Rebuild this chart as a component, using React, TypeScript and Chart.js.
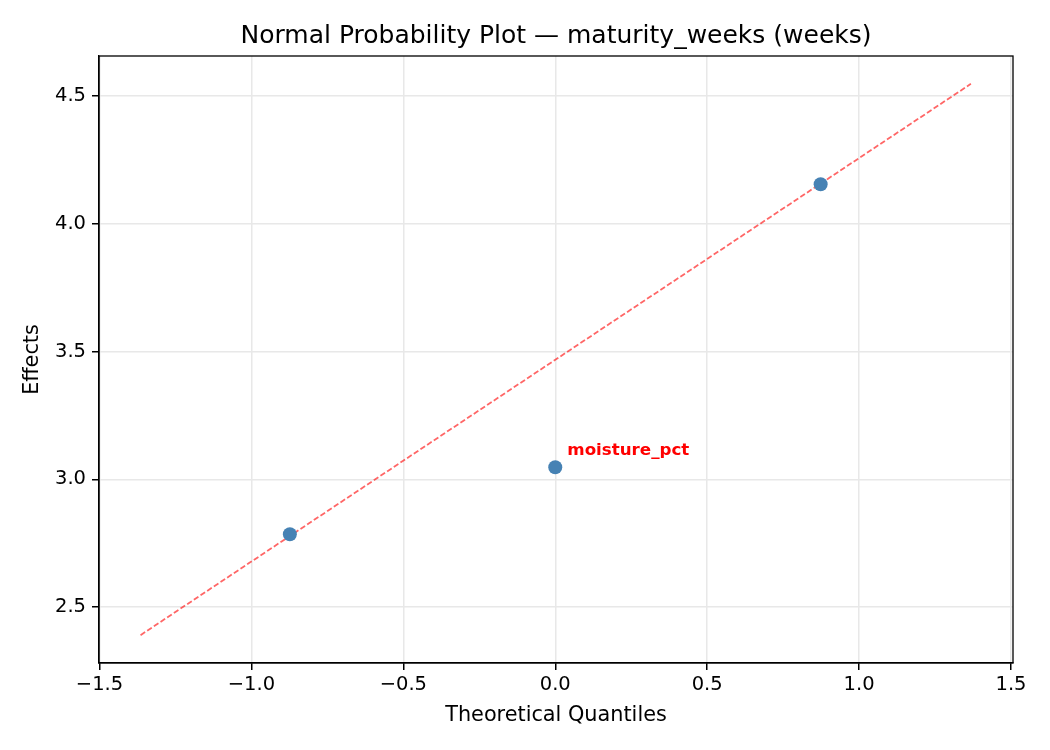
import React, { useEffect, useRef } from 'react';
import { Chart, registerables } from 'chart.js';

Chart.register(...registerables);

// theoretical quantiles vs. effects
const quantiles = [-0.8735, 0, 0.8735];
const effects = [2.785, 3.047, 4.155];
const pointLabels = ['', 'moisture_pct', ''];

// reference line end points
const refLineX = [-1.365, 1.368];
const refLineY = [2.39, 4.548];

const xTicks = [-1.5, -1.0, -0.5, 0.0, 0.5, 1.0, 1.5];
const yTicks = [2.5, 3.0, 3.5, 4.0, 4.5];

const chartTitle = 'Normal Probability Plot \u2014 maturity_weeks (weeks)';

const FONT = "'DejaVu Sans', sans-serif";

const fmt = (v: number) => v.toFixed(1).replace('-', '\u2212');

// draws the title centred over the plot, the full box and the red point labels
const boxAndLabels = {
  id: 'boxAndLabels',
  afterDatasetsDraw(chart: any) {
    const { ctx, chartArea } = chart;
    ctx.save();
    ctx.strokeStyle = '#000';
    ctx.lineWidth = 1.3;
    ctx.strokeRect(chartArea.left, chartArea.top, chartArea.right - chartArea.left, chartArea.bottom - chartArea.top);

    ctx.fillStyle = '#000';
    ctx.font = `25px ${FONT}`;
    ctx.textAlign = 'center';
    ctx.textBaseline = 'middle';
    ctx.fillText(chartTitle, (chartArea.left + chartArea.right) / 2, 36);

    const meta = chart.getDatasetMeta(1);
    ctx.fillStyle = '#ff0000';
    ctx.font = `bold 16.7px ${FONT}`;
    ctx.textBaseline = 'middle';
    ctx.textAlign = 'left';
    meta.data.forEach((pt: any, i: number) => {
      if (!pointLabels[i]) return;
      ctx.fillText(pointLabels[i], pt.x + 12, pt.y - 17);
    });
    ctx.restore();
  },
};

const App = () => {
  const canvasRef = useRef<HTMLCanvasElement>(null);

  useEffect(() => {
    document.body.style.margin = '0';
    const chart = new Chart(canvasRef.current!, {
      type: 'scatter',
      data: {
        datasets: [
          {
            type: 'line',
            label: 'reference',
            data: refLineX.map((x, i) => ({ x, y: refLineY[i] })),
            borderColor: 'rgba(255, 0, 0, 0.6)',
            borderWidth: 1.8,
            borderDash: [5.5, 2.5],
            pointRadius: 0,
            fill: false,
            order: 2,
          },
          {
            label: 'effects',
            data: quantiles.map((x, i) => ({ x, y: effects[i] })),
            backgroundColor: '#4682b4',
            borderColor: '#4682b4',
            pointRadius: 7,
            borderWidth: 0,
            order: 1,
          },
        ],
      },
      options: {
        responsive: false,
        animation: false,
        layout: { padding: { left: 0, right: 37, top: 56, bottom: 0 } },
        plugins: {
          legend: { display: false },
          tooltip: { enabled: false },
          title: { display: false },
        },
        scales: {
          x: {
            type: 'linear',
            min: -1.5017,
            max: 1.5066,
            afterBuildTicks: (s: any) => { s.ticks = xTicks.map(v => ({ value: v })); },
            afterFit: (s: any) => { s.height = 87; },
            ticks: {
              color: '#000',
              font: { family: FONT, size: 19.5 },
              padding: 3,
              maxRotation: 0,
              callback: (v: any) => fmt(Number(v)),
            },
            grid: { color: '#e8e8e8', lineWidth: 1.5, tickColor: '#000', tickLength: 7 },
            border: { display: true, color: '#000', width: 1.3 },
            title: {
              display: true,
              text: 'Theoretical Quantiles',
              color: '#000',
              font: { family: FONT, size: 20.8 },
              padding: { top: 0, bottom: 22 },
            },
          },
          y: {
            type: 'linear',
            min: 2.281,
            max: 4.657,
            afterBuildTicks: (s: any) => { s.ticks = yTicks.map(v => ({ value: v })); },
            afterFit: (s: any) => { s.width = 99; },
            ticks: {
              color: '#000',
              font: { family: FONT, size: 19.5 },
              padding: 6,
              callback: (v: any) => fmt(Number(v)),
            },
            grid: { color: '#e8e8e8', lineWidth: 1.5, tickColor: '#000', tickLength: 7 },
            border: { display: true, color: '#000', width: 1.3 },
            title: {
              display: true,
              text: 'Effects',
              color: '#000',
              font: { family: FONT, size: 20.8 },
              padding: { top: 20, bottom: 0 },
            },
          },
        },
      },
      plugins: [boxAndLabels],
    } as any);

    return () => {
      chart.destroy();
    };
  }, []);

  return (
    <div style={{ width: 1050, height: 750, background: '#fff' }}>
      <canvas ref={canvasRef} width={1050} height={750} />
    </div>
  );
};

export default App;
